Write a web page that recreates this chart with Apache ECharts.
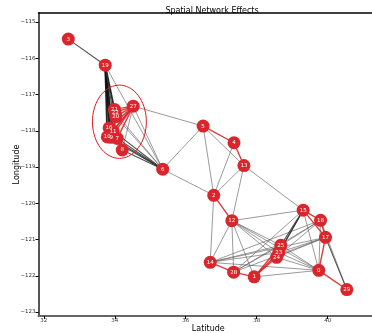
<!DOCTYPE html>
<html>
<head>
<meta charset="utf-8">
<script src="https://cdn.jsdelivr.net/npm/echarts@6/dist/echarts.min.js"></script>
<style>
  html, body { margin: 0; padding: 0; background: #fff; }
  #chart { width: 372px; height: 333px; }
</style>
</head>
<body>
<div id="chart"></div>
<script>
// node ids and their positions (latitude, longitude)
var nodeIds = ['0','1','2','3','4','5','6','7','8','9','10','11','12','13','14','15','16','17','18','19','20','21','22','23','24','25','27','28','29'];
var nodeLat = [39.75, 37.93, 36.79, 32.69, 37.36, 36.49, 35.35, 34.07, 34.21, 33.90, 33.79, 33.95, 37.30, 37.64, 36.69, 39.31, 33.84, 39.94, 39.80, 33.73, 34.03, 33.99, 34.01, 38.62, 38.56, 38.68, 34.52, 37.35, 40.54];
var nodeLon = [-121.85, -122.03, -119.78, -115.47, -118.33, -117.87, -119.06, -118.21, -118.53, -118.18, -118.17, -118.01, -120.48, -118.96, -121.63, -120.19, -117.92, -120.94, -120.47, -116.19, -117.61, -117.41, -117.50, -121.36, -121.49, -121.16, -117.32, -121.90, -122.38];

// edges: [source, target, kind]
var edges = [
  ['3','19','dark'],
  ['19','16','heavy'], ['19','10','heavy'], ['19','9','heavy'], ['19','11','heavy'], ['19','21','heavy'], ['19','7','dark'],
  ['19','6','gray'], ['27','5','gray'], ['27','6','gray'], ['27','8','gray'],
  ['16','6','dark'], ['10','6','dark'], ['9','6','dark'], ['7','6','dark'], ['8','6','dark'], ['22','6','gray'], ['20','6','gray'],
  ['6','5','gray'], ['6','2','gray'],
  ['5','2','gray'], ['5','13','gray'], ['4','2','gray'], ['13','2','gray'], ['13','12','gray'], ['13','15','gray'],
  ['2','14','gray'],
  ['12','15','gray'], ['12','14','gray'], ['12','28','gray'], ['12','1','gray'], ['12','25','gray'], ['12','23','gray'], ['12','24','gray'], ['12','0','gray'],
  ['14','25','gray'], ['14','23','gray'], ['14','17','gray'], ['14','18','gray'], ['14','0','gray'],
  ['28','25','gray'], ['28','17','gray'], ['28','15','gray'], ['28','18','gray'],
  ['1','0','gray'],
  ['15','25','dark'], ['15','23','dark'], ['15','24','dark'], ['15','0','gray'],
  ['18','24','gray'], ['18','25','gray'], ['18','0','gray'],
  ['17','29','dark'], ['17','23','gray'], ['17','24','gray'], ['18','29','gray'],
  ['0','25','gray'], ['0','23','gray'], ['0','24','gray'],
  ['5','4','red'], ['4','13','red'], ['2','12','red'],
  ['14','28','red'], ['28','1','red'], ['1','24','red'], ['1','23','red'], ['1','25','red'],
  ['25','23','red'], ['23','24','red'],
  ['15','18','red'], ['15','17','red'], ['18','17','red'], ['0','29','red'], ['0','17','red'],
  ['27','21','red'], ['27','22','red'], ['27','20','red'], ['27','16','red'], ['27','11','red'], ['27','9','red'], ['27','7','red'], ['27','10','red'],
  ['21','22','red'], ['22','20','red'], ['16','10','red'], ['9','7','red'], ['7','8','red'], ['16','9','red'], ['20','11','red']
];

// highlighted region (center lat, center lon, half-width, half-height)
var regionEllipse = [[34.13, -117.75, 0.76, 1.01]];

var xTicks = [32, 34, 36, 38, 40];
var yTicks = [-115, -116, -117, -118, -119, -120, -121, -122, -123];

var edgeStyles = {
  red:   { color: '#d62728', width: 1.4, opacity: 0.9 },
  heavy: { color: '#111111', width: 1.8, opacity: 0.9 },
  dark:  { color: '#333333', width: 1.1, opacity: 0.85 },
  gray:  { color: '#555555', width: 0.8, opacity: 0.75 }
};

var nodes = nodeIds.map(function (id, i) {
  return { name: id, value: [nodeLat[i], nodeLon[i]] };
});
var links = edges.map(function (e) {
  return { source: e[0], target: e[1], lineStyle: edgeStyles[e[2]] };
});

function minusFmt(v) { return String(v).replace('-', '\u2212'); }

var myChart = echarts.init(document.getElementById('chart'), null, { renderer: 'canvas' });
var option = {
  animation: false,
  textStyle: { fontFamily: 'DejaVu Sans' },
  title: {
    text: 'Spatial Network Effects',
    left: 207, top: 2, textAlign: 'center',
    textStyle: { fontSize: 8, fontWeight: 'normal', color: '#000', fontFamily: 'DejaVu Sans' }
  },
  grid: { left: 38.5, right: 0, top: 13, bottom: 17, containLabel: false, outerBoundsMode: 'none' },
  xAxis: [{
    type: 'value', min: 31.85, max: 41.25,
    name: 'Latitude', nameLocation: 'middle', nameGap: 9, nameMoveOverlap: false,
    nameTextStyle: { fontSize: 8, color: '#000', padding: [0, 0, 0, 6] },
    axisLine: { show: true, lineStyle: { color: '#666', width: 2 } },
    axisTick: { show: true, length: 3, customValues: xTicks, lineStyle: { color: '#000', width: 1 } },
    axisLabel: { fontSize: 5.5, color: '#333', margin: 2, customValues: xTicks },
    splitLine: { show: false }
  }, {
    type: 'value', position: 'top', min: 31.85, max: 41.25,
    axisLine: { show: true, onZero: false, lineStyle: { color: '#000', width: 1.5 } },
    axisTick: { show: false }, axisLabel: { show: false }, splitLine: { show: false }
  }],
  yAxis: {
    type: 'value', min: -123.11, max: -114.75,
    name: 'Longitude', nameLocation: 'middle', nameGap: 18, nameRotate: 90, nameMoveOverlap: false,
    nameTextStyle: { fontSize: 8, color: '#000' },
    axisLine: { show: true, onZero: false, lineStyle: { color: '#555', width: 2 } },
    axisTick: { show: true, length: 3, customValues: yTicks, lineStyle: { color: '#000', width: 1 } },
    axisLabel: { fontSize: 5.5, color: '#333', margin: 3, customValues: yTicks, formatter: minusFmt },
    splitLine: { show: false }
  },
  series: [{
    type: 'graph',
    coordinateSystem: 'cartesian2d',
    xAxisIndex: 0,
    symbol: 'circle',
    symbolSize: 13,
    data: nodes,
    links: links,
    itemStyle: { color: '#d9262c', opacity: 1 },
    label: { show: true, position: 'inside', color: '#fff', fontSize: 5.5 },
    lineStyle: { curveness: 0 },
    z: 3
  }, {
    type: 'custom',
    xAxisIndex: 0,
    data: regionEllipse,
    silent: true,
    z: 4,
    renderItem: function (params, api) {
      var c = api.coord([api.value(0), api.value(1)]);
      var s = api.size([api.value(2), api.value(3)]);
      var pts = [];
      for (var k = 0; k <= 72; k++) {
        var a = k / 72 * Math.PI * 2;
        pts.push([c[0] + s[0] * Math.cos(a), c[1] + s[1] * Math.sin(a)]);
      }
      return {
        type: 'polyline',
        shape: { points: pts },
        style: { stroke: '#e0161c', lineWidth: 1, fill: null }
      };
    }
  }]
};
myChart.setOption(option);
</script>
</body>
</html>
